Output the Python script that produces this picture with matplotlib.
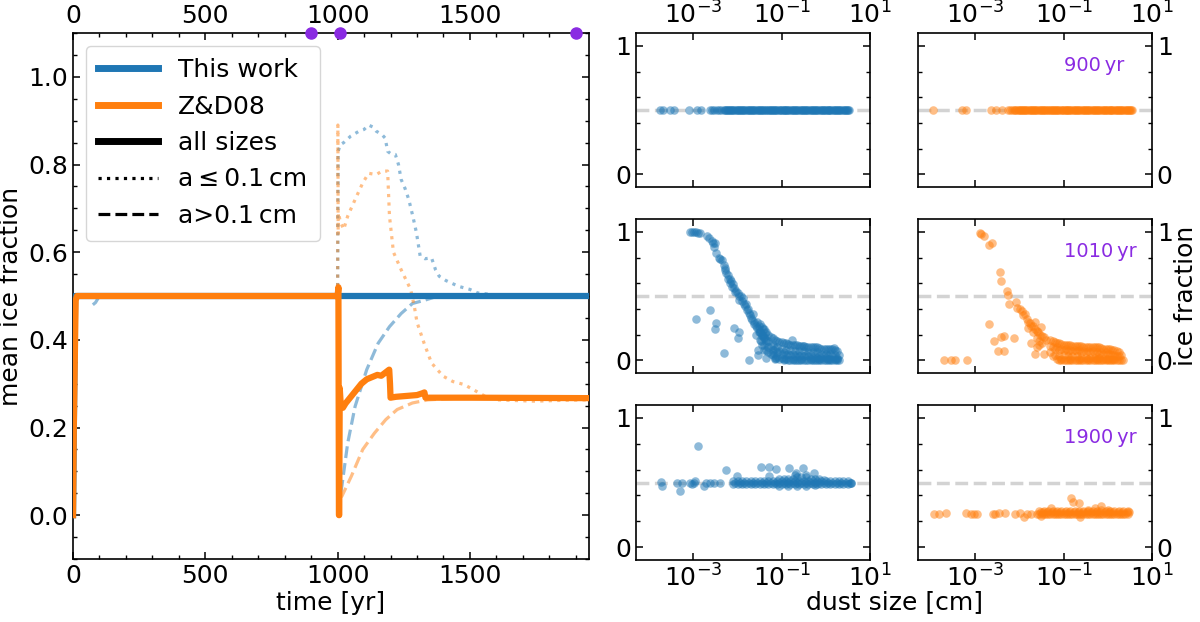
import numpy as np
import matplotlib
matplotlib.use("Agg")
import matplotlib.pyplot as plt
from matplotlib.lines import Line2D
from matplotlib.ticker import FixedLocator, NullLocator, MultipleLocator

# ---------------- data: left panel (mean ice fraction vs time) ----------------
blue_all_t = [0, 8, 1950]
blue_all_v = [0.0, 0.5, 0.5]

orange_all_t = [0, 3, 10, 15, 100, 500, 995, 1000, 1003, 1005, 1006, 1008, 1012, 1020, 1030, 1050,
                1070, 1090, 1110, 1130, 1150, 1165, 1180, 1195, 1198, 1200, 1220, 1260, 1300, 1320,
                1328, 1332, 1400, 1500, 1950]
orange_all_v = [0.0, 0.2, 0.49, 0.5, 0.5, 0.5, 0.5, 0.5, 0.52, 0.0, 0.0, 0.29, 0.25, 0.245, 0.255, 0.27,
                0.285, 0.30, 0.31, 0.315, 0.32, 0.318, 0.325, 0.332, 0.30, 0.268, 0.27, 0.272, 0.274, 0.278,
                0.28, 0.268, 0.268, 0.268, 0.267]

blue_small_t = [0, 10, 1000, 1002, 1010, 1023, 1050, 1081, 1100, 1117, 1135, 1146, 1168, 1180, 1189,
                1200, 1218, 1230, 1240, 1255, 1269, 1285, 1298, 1312, 1330, 1355, 1370, 1384, 1410,
                1457, 1500, 1529, 1560, 1601, 1650, 1950]
blue_small_v = [0.0, 0.5, 0.5, 0.83, 0.845, 0.85, 0.865, 0.876, 0.88, 0.89, 0.885, 0.876, 0.868, 0.86,
                0.83, 0.825, 0.823, 0.80, 0.766, 0.745, 0.72, 0.68, 0.644, 0.591, 0.585, 0.587, 0.56,
                0.545, 0.535, 0.522, 0.515, 0.507, 0.505, 0.5, 0.5, 0.5]

orange_small_t = [0, 10, 1000, 1001, 1002, 1003, 1010, 1023, 1038, 1066, 1095, 1117, 1146, 1168, 1189,
                  1196, 1211, 1240, 1276, 1290, 1300, 1327, 1355, 1399, 1435, 1478, 1514, 1558, 1601,
                  1746, 1850, 1950]
orange_small_v = [0.0, 0.5, 0.5, 0.89, 0.64, 0.69, 0.67, 0.652, 0.682, 0.72, 0.758, 0.78, 0.777, 0.785,
                  0.785, 0.682, 0.60, 0.56, 0.515, 0.476, 0.44, 0.392, 0.347, 0.317, 0.305, 0.298, 0.286,
                  0.271, 0.263, 0.26, 0.262, 0.263]

blue_large_t = [75, 85, 100, 1000, 1008, 1016, 1038, 1066, 1110, 1153, 1196, 1240, 1283, 1327, 1380, 1950]
blue_large_v = [0.48, 0.485, 0.5, 0.5, 0.04, 0.066, 0.164, 0.248, 0.332, 0.392, 0.43, 0.46, 0.483,
                0.49, 0.5, 0.5]

orange_large_t = [1008, 1016, 1052, 1095, 1139, 1182, 1225, 1283, 1341, 1457, 1950]
orange_large_v = [0.04, 0.043, 0.089, 0.15, 0.187, 0.218, 0.241, 0.256, 0.263, 0.267, 0.268]

snapshot_times = [900, 1010, 1900]
snapshot_labels = ["900\u2009yr", "1010\u2009yr", "1900\u2009yr"]

# ---------------- data: right panels (ice fraction vs dust size [cm]) ----------------
# 900 yr, this work
a900_size = [1.74e-4, 2.0e-4, 3.0e-4, 3.7e-4, 8.1e-4, 1.23e-3, 1.5e-3,
             2.4e-3, 2.7e-3, 3.0e-3, 3.4e-3, 3.8e-3, 4.3e-3, 4.8e-3, 5.4e-3, 6.0e-3, 6.8e-3, 7.6e-3,
             8.5e-3, 9.5e-3, 0.011, 0.012, 0.013, 0.015, 0.017, 0.019, 0.021, 0.024, 0.027, 0.030,
             0.034, 0.038, 0.043, 0.048, 0.054, 0.060, 0.068, 0.076, 0.085, 0.095, 0.11, 0.12, 0.13,
             0.15, 0.17, 0.19, 0.21, 0.24, 0.27, 0.30, 0.34, 0.38, 0.43, 0.48, 0.54, 0.60, 0.68, 0.76,
             0.85, 0.95, 1.1, 1.2, 1.3, 1.5, 1.7, 1.9, 2.1, 2.4, 2.7, 3.0, 3.4,
             5.1e-3, 5.7e-3, 6.4e-3, 7.2e-3, 8.0e-3, 9.0e-3, 0.0101, 0.0113, 0.0127, 0.0142, 0.016,
             0.018, 0.020, 0.0226, 0.0254, 0.0285, 0.032, 0.036, 0.040, 0.045, 0.051, 0.057, 0.064,
             0.072, 0.080, 0.090, 0.101, 0.113, 0.127, 0.142, 0.16, 0.18, 0.20, 0.226, 0.254, 0.285,
             0.32, 0.36, 0.40, 0.45, 0.51, 0.57, 0.64, 0.72, 0.80, 0.90, 1.01, 1.13, 1.27, 1.42, 1.6,
             1.8, 2.0, 2.26, 2.54, 2.85, 3.2]
a900_frac = [0.5] * len(a900_size)

# 900 yr, Z&D08
b900_size = [1.1e-4, 5.0e-4, 6.0e-4, 2.2e-3, 2.9e-3, 3.9e-3,
             5.4e-3, 6.0e-3, 6.8e-3, 7.6e-3, 8.5e-3, 9.5e-3, 0.011, 0.012, 0.013, 0.015, 0.017, 0.019,
             0.021, 0.024, 0.027, 0.030, 0.034, 0.038, 0.043, 0.048, 0.054, 0.060, 0.068, 0.076, 0.085,
             0.095, 0.11, 0.12, 0.13, 0.15, 0.17, 0.19, 0.21, 0.24, 0.27, 0.30, 0.34, 0.38, 0.43, 0.48,
             0.54, 0.60, 0.68, 0.76, 0.85, 0.95, 1.1, 1.2, 1.3, 1.5, 1.7, 1.9, 2.1, 2.4, 2.7, 3.0, 3.4, 3.6,
             8.0e-3, 9.0e-3, 0.0101, 0.0113, 0.0127, 0.0142, 0.016, 0.018, 0.020, 0.0226, 0.0254,
             0.0285, 0.032, 0.036, 0.040, 0.045, 0.051, 0.057, 0.064, 0.072, 0.080, 0.090, 0.101,
             0.113, 0.127, 0.142, 0.16, 0.18, 0.20, 0.226, 0.254, 0.285, 0.32, 0.36, 0.40, 0.45, 0.51,
             0.57, 0.64, 0.72, 0.80, 0.90, 1.01, 1.13, 1.27, 1.42, 1.6, 1.8, 2.0, 2.26, 2.54, 2.85, 3.2]
b900_frac = [0.5] * len(b900_size)

# 1010 yr, this work
a1010_size = [8.5e-4, 9.5e-4, 1.05e-3, 1.15e-3, 1.25e-3, 1.4e-3,
              2.0e-3, 2.6e-3, 2.8e-3, 3.1e-3, 3.3e-3, 3.8e-3, 4.4e-3, 4.8e-3, 5.1e-3, 5.6e-3, 6.2e-3,
              6.6e-3, 7.1e-3, 7.9e-3, 8.5e-3, 9.3e-3, 0.010, 0.0107, 0.0117, 0.0132, 0.0141, 0.0158,
              0.017, 0.018, 0.0204, 0.022, 0.0234, 0.026, 0.028, 0.030, 0.033, 0.037, 0.040, 0.045,
              2.2e-3, 3.0e-3, 4.1e-3, 5.3e-3, 6.0e-3, 6.9e-3, 7.5e-3, 8.9e-3, 0.0105, 0.0125, 0.0148,
              0.0165, 0.019, 0.021, 0.024, 0.027, 0.031, 0.035, 0.042, 0.038, 0.030, 0.034,
              # outliers
              1.15e-3, 2.35e-3, 3.2e-3, 3.1e-3, 5.0e-3, 8.1e-3, 0.0107, 0.0102, 0.0186, 0.026, 0.029,
              0.029, 0.045, 0.074, 0.062, 0.17, 0.30, 1.5,
              # dense tail
              0.032, 0.032, 0.032, 0.040, 0.040, 0.040, 0.040, 0.050, 0.050, 0.050, 0.050,
              0.063, 0.063, 0.063, 0.063, 0.079, 0.079, 0.079, 0.079, 0.10, 0.10, 0.10, 0.10,
              0.126, 0.126, 0.126, 0.126, 0.158, 0.158, 0.158, 0.158, 0.20, 0.20, 0.20, 0.20,
              0.25, 0.25, 0.25, 0.25, 0.32, 0.32, 0.32, 0.32, 0.40, 0.40, 0.40, 0.40,
              0.50, 0.50, 0.50, 0.50, 0.63, 0.63, 0.63, 0.63, 0.79, 0.79, 0.79, 0.79,
              1.0, 1.0, 1.0, 1.0, 1.26, 1.26, 1.26, 1.26, 1.58, 1.58, 1.58, 1.58, 2.0, 2.0,
              0.036, 0.045, 0.056, 0.071, 0.089, 0.112, 0.141, 0.178, 0.224, 0.28, 0.355, 0.45, 0.56,
              0.71, 0.89, 1.12, 1.41, 1.78, 0.071, 0.112, 0.178, 0.28, 0.45, 0.71, 1.12, 1.78,
              0.036, 0.045, 0.056, 0.071, 0.089, 0.112, 0.141, 0.178, 0.224, 0.28, 0.355, 0.45, 0.56,
              0.71, 0.89, 1.12, 1.41, 1.78,
              0.036, 0.045, 0.056, 0.071, 0.089, 0.112, 0.141, 0.178, 0.224, 0.28, 0.355, 0.45, 0.56,
              0.71, 0.89, 1.12, 1.41, 1.78]
a1010_frac = [0.995, 1.0, 0.995, 1.0, 0.99, 0.99,
              0.966, 0.927, 0.91, 0.914, 0.836, 0.80, 0.784, 0.74, 0.706, 0.68, 0.629,
              0.60, 0.62, 0.59, 0.56, 0.538, 0.52, 0.47, 0.50, 0.486, 0.44, 0.434,
              0.40, 0.37, 0.33, 0.36, 0.30, 0.265, 0.30, 0.24, 0.22, 0.20, 0.17, 0.16,
              0.95, 0.88, 0.79, 0.72, 0.66, 0.63, 0.57, 0.53, 0.50, 0.46, 0.42,
              0.39, 0.35, 0.31, 0.28, 0.25, 0.22, 0.19, 0.21, 0.24, 0.27, 0.15,
              0.317, 0.39, 0.286, 0.239, 0.057, 0.247, 0.221, 0.174, 0.005, 0.20, 0.083,
              0.044, 0.018, 0.018, 0.057, 0.161, 0.109, 0.096,
              0.28, 0.22, 0.16, 0.24, 0.18, 0.12, 0.08, 0.20, 0.15, 0.10, 0.06,
              0.17, 0.12, 0.08, 0.04, 0.15, 0.10, 0.06, 0.03, 0.14, 0.09, 0.05, 0.02,
              0.13, 0.08, 0.04, 0.01, 0.12, 0.08, 0.04, 0.0, 0.12, 0.07, 0.03, 0.0,
              0.11, 0.07, 0.03, 0.0, 0.11, 0.07, 0.03, 0.0, 0.10, 0.06, 0.03, 0.0,
              0.10, 0.06, 0.02, 0.0, 0.10, 0.06, 0.02, 0.0, 0.09, 0.05, 0.02, 0.0,
              0.09, 0.05, 0.02, 0.0, 0.09, 0.05, 0.01, 0.0, 0.08, 0.04, 0.01, 0.0, 0.04, 0.0,
              0.20, 0.14, 0.11, 0.09, 0.07, 0.06, 0.05, 0.05, 0.05, 0.04, 0.04, 0.04, 0.04,
              0.03, 0.03, 0.03, 0.03, 0.02, 0.01, 0.01, 0.01, 0.01, 0.01, 0.01, 0.01, 0.01,
              0.26, 0.22, 0.18, 0.16, 0.145, 0.135, 0.125, 0.12, 0.115, 0.11, 0.105, 0.10, 0.10,
              0.095, 0.09, 0.09, 0.085, 0.07,
              0.12, 0.08, 0.05, 0.02, 0.01, 0.0, 0.0, 0.0, 0.0, 0.0, 0.0, 0.0, 0.0,
              0.0, 0.0, 0.0, 0.0, 0.0]

# 1010 yr, Z&D08
b1010_size = [1.95e-4, 2.8e-4, 3.4e-4, 6.3e-4,
              1.26e-3, 1.35e-3, 1.55e-3, 2.0e-3, 2.35e-3, 3.55e-3, 3.8e-3, 5.1e-3, 5.4e-3, 5.9e-3,
              8.1e-3, 8.7e-3, 0.010, 0.0112, 0.012, 0.0132, 0.0145, 0.0158, 0.0174, 0.0186, 0.0204,
              0.0224, 0.0245, 0.026, 0.029, 0.032, 0.035, 0.040,
              # outliers / lower branch
              2.0e-3, 2.6e-3, 3.2e-3, 3.8e-3, 4.5e-3, 4.5e-3, 7.6e-3, 0.0186, 0.0245, 0.0224, 0.035,
              0.028, 0.0158, 0.020, 0.025, 0.028, 0.032, 0.022, 0.030,
              # dense tail
              0.050, 0.050, 0.050, 0.063, 0.063, 0.063, 0.079, 0.079, 0.079, 0.079,
              0.10, 0.10, 0.10, 0.10, 0.126, 0.126, 0.126, 0.126, 0.158, 0.158, 0.158, 0.158,
              0.20, 0.20, 0.20, 0.20, 0.25, 0.25, 0.25, 0.25, 0.32, 0.32, 0.32, 0.32,
              0.40, 0.40, 0.40, 0.40, 0.50, 0.50, 0.50, 0.50, 0.63, 0.63, 0.63, 0.63,
              0.79, 0.79, 0.79, 0.79, 1.0, 1.0, 1.0, 1.0, 1.26, 1.26, 1.26, 1.26,
              1.58, 1.58, 1.58, 2.0, 2.0, 2.2,
              0.056, 0.071, 0.089, 0.112, 0.141, 0.178, 0.224, 0.28, 0.355, 0.45, 0.56, 0.71, 0.89,
              1.12, 1.41, 1.78, 0.089, 0.141, 0.224, 0.355, 0.56, 0.89, 1.41,
              0.056, 0.071, 0.089, 0.112, 0.141, 0.178, 0.224, 0.28, 0.355, 0.45, 0.56, 0.71, 0.89,
              1.12, 1.41, 1.78,
              0.056, 0.071, 0.089, 0.112, 0.141, 0.178, 0.224, 0.28, 0.355, 0.45, 0.56, 0.71, 0.89,
              1.12, 1.41, 1.78]
b1010_frac = [0.0, 0.0, 0.0, 0.0,
              0.99, 0.98, 0.965, 0.90, 0.915, 0.69, 0.62, 0.54, 0.51, 0.44,
              0.455, 0.41, 0.40, 0.38, 0.35, 0.356, 0.32, 0.30, 0.29, 0.27, 0.265,
              0.24, 0.23, 0.22, 0.20, 0.19, 0.18, 0.16,
              0.283, 0.153, 0.07, 0.18, 0.19, 0.075, 0.175, 0.135, 0.10, 0.05, 0.045,
              0.12, 0.25, 0.22, 0.17, 0.15, 0.13, 0.30, 0.26,
              0.16, 0.11, 0.06, 0.14, 0.09, 0.04, 0.13, 0.08, 0.03, 0.0,
              0.12, 0.08, 0.04, 0.0, 0.12, 0.07, 0.03, 0.0, 0.11, 0.07, 0.03, 0.0,
              0.11, 0.07, 0.03, 0.0, 0.11, 0.06, 0.02, 0.0, 0.10, 0.06, 0.02, 0.0,
              0.10, 0.06, 0.02, 0.0, 0.10, 0.05, 0.02, 0.0, 0.10, 0.05, 0.02, 0.0,
              0.09, 0.05, 0.01, 0.0, 0.09, 0.05, 0.01, 0.0, 0.08, 0.04, 0.01, 0.0,
              0.07, 0.03, 0.0, 0.04, 0.0, 0.0,
              0.10, 0.10, 0.09, 0.09, 0.08, 0.08, 0.08, 0.07, 0.07, 0.07, 0.06, 0.06, 0.06,
              0.05, 0.04, 0.03, 0.01, 0.01, 0.01, 0.01, 0.01, 0.01, 0.01,
              0.15, 0.135, 0.125, 0.12, 0.115, 0.11, 0.11, 0.105, 0.10, 0.10, 0.10, 0.095, 0.09,
              0.085, 0.08, 0.06,
              0.03, 0.01, 0.0, 0.0, 0.0, 0.0, 0.0, 0.0, 0.0, 0.0, 0.0, 0.0, 0.0,
              0.0, 0.0, 0.0]

# 1900 yr, this work
a1900_size = [1.8e-4, 1.9e-4, 4.3e-4, 4.9e-4, 5.6e-4, 8.5e-4, 9.3e-4, 1.02e-3, 1.1e-3, 1.26e-3,
              1.7e-3, 1.9e-3, 2.4e-3, 2.9e-3, 4.1e-3, 5.5e-3,
              7.9e-3, 0.010, 0.0126, 0.0158, 0.020, 0.025, 0.032, 0.040, 0.050, 0.063, 0.079, 0.10,
              0.126, 0.158, 0.20, 0.25, 0.32, 0.40, 0.50, 0.63, 0.79, 1.0, 1.26, 1.58, 2.0, 2.5, 3.2, 3.7,
              7.9e-3, 0.010, 0.0126, 0.0158, 0.020, 0.025, 0.032, 0.040, 0.050, 0.063, 0.079, 0.10,
              0.126, 0.158, 0.20, 0.25, 0.32, 0.40, 0.50, 0.63, 0.79, 1.0, 1.26, 1.58, 2.0, 2.5, 3.2, 3.7,
              8.9e-3, 0.0112, 0.0141, 0.0178, 0.0224, 0.028, 0.0355, 0.045, 0.056, 0.071, 0.089, 0.112,
              0.141, 0.178, 0.224, 0.28, 0.355, 0.45, 0.56, 0.71, 0.89, 1.12, 1.41, 1.78, 2.24, 2.8, 3.5,
              0.089, 0.112, 0.141, 0.178, 0.224, 0.28, 0.355, 0.45, 0.56, 0.71, 0.89,
              0.089, 0.141, 0.224, 0.355, 0.56,
              0.034, 0.051, 0.076, 0.051, 0.145, 0.30, 0.21, 0.55, 9.5e-3, 0.20, 0.35]
a1900_frac = [0.506, 0.475, 0.494, 0.434, 0.50, 0.50, 0.49, 0.50, 0.51, 0.784,
              0.475, 0.50, 0.50, 0.50, 0.50, 0.595,
              0.49, 0.49, 0.49, 0.49, 0.49, 0.49, 0.49, 0.49, 0.49, 0.49, 0.49, 0.49,
              0.49, 0.49, 0.49, 0.49, 0.49, 0.49, 0.49, 0.49, 0.49, 0.49, 0.49, 0.49, 0.49, 0.49, 0.49, 0.50,
              0.51, 0.51, 0.51, 0.51, 0.51, 0.51, 0.51, 0.51, 0.51, 0.51, 0.51, 0.51,
              0.51, 0.51, 0.51, 0.51, 0.51, 0.51, 0.51, 0.51, 0.51, 0.51, 0.51, 0.51, 0.51, 0.51, 0.51, 0.50,
              0.50, 0.50, 0.50, 0.50, 0.50, 0.50, 0.50, 0.50, 0.50, 0.50, 0.50, 0.50,
              0.50, 0.50, 0.50, 0.50, 0.50, 0.50, 0.50, 0.50, 0.50, 0.50, 0.50, 0.50, 0.50, 0.50, 0.50,
              0.53, 0.53, 0.53, 0.53, 0.54, 0.54, 0.54, 0.53, 0.53, 0.53, 0.52,
              0.47, 0.47, 0.47, 0.47, 0.48,
              0.618, 0.618, 0.603, 0.553, 0.61, 0.61, 0.571, 0.571, 0.55, 0.56, 0.56]

# 1900 yr, Z&D08
b1900_size = [1.15e-4, 1.5e-4, 2.1e-4, 6.0e-4, 7.8e-4, 9.1e-4, 1.1e-3, 2.45e-3, 2.8e-3, 3.5e-3,
              4.7e-3, 7.9e-3, 0.0102, 0.0123, 0.0145, 0.018,
              0.0245, 0.028, 0.032, 0.036, 0.040, 0.045, 0.050, 0.056, 0.063, 0.071, 0.079, 0.089, 0.10,
              0.112, 0.126, 0.141, 0.158, 0.178, 0.20, 0.224, 0.25, 0.28, 0.32, 0.355, 0.40, 0.45, 0.50,
              0.56, 0.63, 0.71, 0.79, 0.89, 1.0, 1.12, 1.26, 1.41, 1.58, 1.78, 2.0, 2.24, 2.5, 2.8, 3.0,
              0.028, 0.036, 0.045, 0.056, 0.071, 0.089, 0.112, 0.141, 0.178, 0.224, 0.28, 0.355, 0.45,
              0.56, 0.71, 0.89, 1.12, 1.41, 1.78, 2.24, 2.8,
              0.030, 0.034, 0.042, 0.053, 0.067, 0.084, 0.106, 0.133, 0.168, 0.212, 0.267, 0.337,
              0.42, 0.53, 0.67, 0.84, 1.06, 1.33, 1.68, 2.12, 2.67,
              0.148, 0.166, 0.22, 0.052, 0.71, 0.23, 0.03, 0.5, 0.35, 1.0]
b1900_frac = [0.26, 0.26, 0.265, 0.265, 0.26, 0.255, 0.26, 0.26, 0.255, 0.265,
              0.265, 0.26, 0.265, 0.23, 0.26, 0.26,
              0.26, 0.26, 0.26, 0.26, 0.26, 0.26, 0.26, 0.26, 0.26, 0.26, 0.26, 0.26, 0.26,
              0.26, 0.26, 0.26, 0.26, 0.26, 0.26, 0.26, 0.26, 0.26, 0.26, 0.26, 0.26, 0.26, 0.26,
              0.26, 0.26, 0.26, 0.26, 0.26, 0.26, 0.26, 0.26, 0.26, 0.26, 0.26, 0.26, 0.26, 0.26, 0.26, 0.27,
              0.28, 0.28, 0.28, 0.28, 0.28, 0.28, 0.28, 0.28, 0.28, 0.28, 0.28, 0.28, 0.28,
              0.28, 0.29, 0.28, 0.28, 0.28, 0.28, 0.28, 0.28,
              0.27, 0.27, 0.27, 0.27, 0.27, 0.27, 0.27, 0.27, 0.27, 0.27, 0.27, 0.27,
              0.27, 0.27, 0.27, 0.27, 0.27, 0.27, 0.27, 0.27, 0.27,
              0.38, 0.35, 0.34, 0.30, 0.32, 0.23, 0.24, 0.30, 0.29, 0.29]

# ---------------- styling ----------------
C_BLUE = "#1f77b4"
C_ORANGE = "#ff7f0e"
C_PURPLE = "blueviolet"
FS = 18

plt.rcParams.update({
    "font.family": ["DejaVu Sans"],
    "font.size": FS,
    "axes.linewidth": 1.2,
    "xtick.direction": "in",
    "ytick.direction": "in",
    "xtick.major.size": 5,
    "ytick.major.size": 5,
    "xtick.minor.size": 3,
    "ytick.minor.size": 3,
    "xtick.major.width": 1.1,
    "ytick.major.width": 1.1,
    "xtick.minor.width": 1.0,
    "ytick.minor.width": 1.0,
})

W, H = 1200, 622
fig = plt.figure(figsize=(W / 100, H / 100), dpi=100)


def px_axes(x0, y0, x1, y1):
    return fig.add_axes([x0 / W, 1 - y1 / H, (x1 - x0) / W, (y1 - y0) / H])


# ---------------- left panel ----------------
ax = px_axes(73, 33, 589, 559)
lw_all = 4.5
lw_thin = 2.3
ax.plot(blue_all_t, blue_all_v, color=C_BLUE, lw=lw_all, zorder=3)
ax.plot(blue_small_t, blue_small_v, color=C_BLUE, lw=lw_thin, ls=":", alpha=0.5, zorder=2)
ax.plot(blue_large_t, blue_large_v, color=C_BLUE, lw=lw_thin, ls="--", alpha=0.5, zorder=2)
ax.plot(orange_small_t, orange_small_v, color=C_ORANGE, lw=lw_thin, ls=":", alpha=0.5, zorder=2)
ax.plot(orange_large_t, orange_large_v, color=C_ORANGE, lw=lw_thin, ls="--", alpha=0.5, zorder=2)
ax.plot(orange_all_t, orange_all_v, color=C_ORANGE, lw=lw_all, zorder=4)

ax.plot(snapshot_times, [1.0] * len(snapshot_times), "o", color=C_PURPLE, ms=8,
        transform=ax.get_xaxis_transform(), clip_on=False, zorder=10)

ax.set_xlim(0, 1950)
ax.set_ylim(-0.1, 1.1)
ax.xaxis.set_major_locator(MultipleLocator(500))
ax.xaxis.set_minor_locator(MultipleLocator(100))
ax.yaxis.set_major_locator(MultipleLocator(0.2))
ax.yaxis.set_minor_locator(MultipleLocator(0.05))
ax.tick_params(which="both", top=True, right=True, labeltop=True)
ax.set_xlabel("time [yr]", labelpad=2)
ax.set_ylabel("mean ice fraction", labelpad=4)

handles = [
    Line2D([], [], color=C_BLUE, lw=5),
    Line2D([], [], color=C_ORANGE, lw=5),
    Line2D([], [], color="black", lw=5),
    Line2D([], [], color="black", lw=2.3, ls=":"),
    Line2D([], [], color="black", lw=2.3, ls="--"),
]
labels = ["This work", "Z&D08", "all sizes", "a\u2009\u2264\u20090.1\u2009cm", "a>0.1\u2009cm"]
ax.legend(handles, labels, loc="upper left", fontsize=FS, labelspacing=0.5,
          handlelength=2.4, handletextpad=0.8, borderpad=0.5, framealpha=0.8)

# ---------------- right panels ----------------
col_x = [(636, 870), (918, 1152)]
row_y = [(33, 187), (219, 373), (405, 560)]
panels = [
    [(a900_size, a900_frac, C_BLUE), (b900_size, b900_frac, C_ORANGE)],
    [(a1010_size, a1010_frac, C_BLUE), (b1010_size, b1010_frac, C_ORANGE)],
    [(a1900_size, a1900_frac, C_BLUE), (b1900_size, b1900_frac, C_ORANGE)],
]

for r in range(3):
    for c in range(2):
        x0, x1 = col_x[c]
        y0, y1 = row_y[r]
        a = px_axes(x0, y0, x1, y1)
        size, frac, col = panels[r][c]
        a.axhline(0.5, color="lightgray", ls="--", lw=2.5, zorder=1)
        a.scatter(size, frac, s=38, color=col, alpha=0.5, linewidths=0, zorder=2)
        a.set_xscale("log")
        a.set_xlim(5e-5, 10)
        a.set_ylim(-0.1, 1.1)
        a.xaxis.set_major_locator(FixedLocator([1e-3, 1e-1, 1e1]))
        a.xaxis.set_minor_locator(NullLocator())
        a.yaxis.set_major_locator(FixedLocator([0, 1]))
        a.yaxis.set_minor_locator(FixedLocator([0.2, 0.4, 0.6, 0.8]))
        a.tick_params(which="both", top=True, right=True, bottom=True, left=True,
                      labeltop=(r == 0), labelbottom=(r == 2),
                      labelleft=(c == 0), labelright=(c == 1))
        if c == 1:
            a.text(0.625, 0.79, snapshot_labels[r], transform=a.transAxes, color=C_PURPLE,
                   fontsize=14, ha="left", va="center")
        if r == 1 and c == 1:
            a.yaxis.set_label_position("right")
            a.set_ylabel("ice fraction", labelpad=1)

fig.text((636 + 1152) / 2 / W, 1 - 602 / H, "dust size [cm]", ha="center", va="center", fontsize=FS)

fig.savefig("out.png", dpi=100)
